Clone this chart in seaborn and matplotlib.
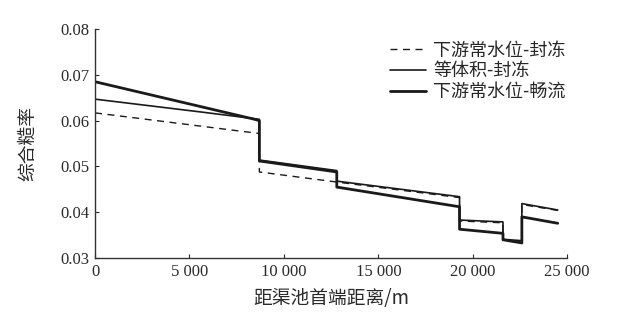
import pandas as pd
import matplotlib
matplotlib.use('Agg')
import matplotlib.pyplot as plt
import seaborn as sns

# data (distance in m, roughness)
x_dashed = [0, 8700, 8700, 12800, 19300, 19300, 21600, 21600, 22600, 22600, 24500]
y_dashed = [0.0617, 0.0572, 0.0488, 0.0466, 0.0432, 0.0381, 0.0377, 0.0339, 0.0337, 0.0417, 0.0404]

x_equal = [0, 5600, 8700, 8700, 12800, 12800, 19300, 19300, 21600, 21600, 22600, 22600, 24500]
y_equal = [0.0647, 0.0619, 0.0603, 0.0514, 0.0491, 0.0468, 0.0434, 0.0383, 0.0379, 0.0341, 0.0338, 0.0419, 0.0405]

x_open = [0, 8450, 8700, 8700, 12800, 12800, 19300, 19300, 21600, 21600, 22600, 22600, 24500]
y_open = [0.0685, 0.0603, 0.0600, 0.0512, 0.0488, 0.0455, 0.0412, 0.0363, 0.0354, 0.0340, 0.0333, 0.0390, 0.0376]

labels = ['下游常水位-封冻', '等体积-封冻', '下游常水位-畅流']

sns.set_style('ticks')
plt.rcParams['font.family'] = ['Liberation Serif', 'Noto Sans CJK SC']
cjk = ['Noto Sans CJK SC', 'DejaVu Sans']

fig = plt.figure(figsize=(6.38, 3.23), dpi=100)
ax = fig.add_axes([0.149, 0.201, 0.74, 0.709])

c = '#1a1a1a'
sns.lineplot(x=x_dashed, y=y_dashed, sort=False, estimator=None, ax=ax, color=c,
             linewidth=1.0, linestyle=(0, (5, 4)), label=labels[0])
sns.lineplot(x=x_equal, y=y_equal, sort=False, estimator=None, ax=ax, color=c,
             linewidth=1.2, label=labels[1])
sns.lineplot(x=x_open, y=y_open, sort=False, estimator=None, ax=ax, color=c,
             linewidth=2.0, label=labels[2])

ax.set_xlim(0, 25000)
ax.set_ylim(0.03, 0.08)
ax.set_xticks([0, 5000, 10000, 15000, 20000, 25000])
ax.set_xticklabels(['0', '5 000', '10 000', '15 000', '20 000', '25 000'])
ax.set_yticks([0.03, 0.04, 0.05, 0.06, 0.07, 0.08])
ax.set_yticklabels(['0.03', '0.04', '0.05', '0.06', '0.07', '0.08'])
ax.tick_params(direction='in', length=3, labelsize=12, colors='#2a2a2a', pad=4)
for s in ['top', 'right']:
    ax.spines[s].set_visible(False)
for s in ['left', 'bottom']:
    ax.spines[s].set_color('#333333')
    ax.spines[s].set_linewidth(1.0)

ax.set_xlabel('距渠池首端距离/m', fontsize=13.5, family=cjk, color='#2a2a2a', labelpad=6)
ax.set_ylabel('综合糙率', fontsize=13.5, family=cjk, color='#2a2a2a', labelpad=16)

leg = ax.legend(loc='upper left', bbox_to_anchor=(0.605, 0.985), frameon=False,
                prop={'family': cjk, 'size': 13}, handlelength=2.0, borderpad=0,
                handletextpad=0.4, labelspacing=0.15)

fig.savefig('out.png', dpi=100)
